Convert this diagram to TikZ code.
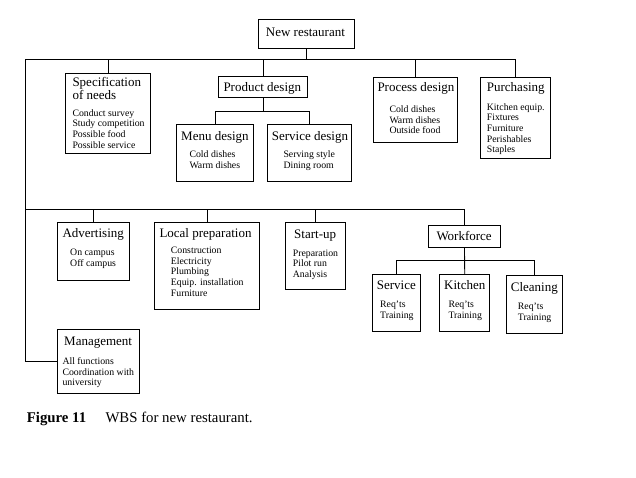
\documentclass[tikz,border=0pt]{standalone}
\usepackage{fontspec}
\setmainfont{Liberation Serif}
\newcommand\wbslines[1]{\begin{tabular}[t]{@{}l@{}}#1\end{tabular}}
\begin{document}
\begin{tikzpicture}[x=1pt,y=-1pt,
  wbox/.style={draw, line width=0.9pt, inner sep=0pt, anchor=north west},
  ttl/.style={font=\fontsize{13}{13.7}\selectfont, anchor=base west, inner sep=0pt},
  itm/.style={font=\fontsize{9.8}{10.7}\selectfont, anchor=base west, inner sep=0pt},
  captxt/.style={font=\fontsize{14.8}{16}\selectfont, anchor=base west, inner sep=0pt},
  conn/.style={line width=0.9pt}]
\useasboundingbox (0,0) rectangle (636,477);
\fill[white] (0,0) rectangle (636,477);
% boxes
\node[wbox, minimum width=96pt, minimum height=29pt] (nr) at (258.3,19.3) {};
\node[wbox, minimum width=85pt, minimum height=80pt] (spec) at (65.3,73.3) {};
\node[wbox, minimum width=89pt, minimum height=21.6pt] (prod) at (218.3,75.7) {};
\node[wbox, minimum width=77.6pt, minimum height=57pt] (menu) at (175.7,124.3) {};
\node[wbox, minimum width=84.3pt, minimum height=57pt] (serv) at (266.7,124.3) {};
\node[wbox, minimum width=84pt, minimum height=65.6pt] (proc) at (373.3,76.7) {};
\node[wbox, minimum width=70pt, minimum height=81.6pt] (purch) at (480.3,76.7) {};
\node[wbox, minimum width=71.4pt, minimum height=58pt] (adv) at (57.3,222.3) {};
\node[wbox, minimum width=104.4pt, minimum height=87pt] (loc) at (154.3,222.3) {};
\node[wbox, minimum width=60pt, minimum height=67pt] (start) at (285.3,222.3) {};
\node[wbox, minimum width=72.6pt, minimum height=22pt] (work) at (427.7,225.3) {};
\node[wbox, minimum width=48.6pt, minimum height=57pt] (wserv) at (371.7,274.3) {};
\node[wbox, minimum width=50pt, minimum height=57pt] (kitch) at (439.3,274.3) {};
\node[wbox, minimum width=56pt, minimum height=58pt] (clean) at (506.3,275.3) {};
\node[wbox, minimum width=82pt, minimum height=64pt] (mgmt) at (57.3,329.3) {};
% texts
\node[ttl] (nrt) at (265.7,36.7) {New restaurant};
\node[ttl] (spect) at (72.3,86) {\wbslines{Specification\\of needs}};
\node[itm] (speci) at (72.3,116) {\wbslines{Conduct survey\\Study competition\\Possible food\\Possible service}};
\node[ttl] (prodt) at (223.3,91) {Product design};
\node[ttl] (menut) at (181,140) {Menu design};
\node[itm] (menui) at (189.3,157.7) {\wbslines{Cold dishes\\Warm dishes}};
\node[ttl] (servt) at (271.7,140) {Service design};
\node[itm] (servi) at (283.3,157.7) {\wbslines{Serving style\\Dining room}};
\node[ttl] (proct) at (377.3,91) {Process design};
\node[itm] (proci) at (389.3,112.3) {\wbslines{Cold dishes\\Warm dishes\\Outside food}};
\node[ttl] (purcht) at (486.7,91) {Purchasing};
\node[itm] (purchi) at (486.7,110) {\wbslines{Kitchen equip.\\Fixtures\\Furniture\\Perishables\\Staples}};
\node[ttl] (advt) at (62.3,237.3) {Advertising};
\node[itm] (advi) at (70,255.3) {\wbslines{On campus\\Off campus}};
\node[ttl] (loct) at (159.3,237.3) {Local preparation};
\node[itm] (loci) at (170.7,253.3) {\wbslines{Construction\\Electricity\\Plumbing\\Equip. installation\\Furniture}};
\node[ttl] (startt) at (294,238.3) {Start-up};
\node[itm] (starti) at (292.7,256) {\wbslines{Preparation\\Pilot run\\Analysis}};
\node[ttl] (workt) at (436.3,240) {Workforce};
\node[ttl] (wservt) at (376.7,289.3) {Service};
\node[itm] (wservi) at (380,307.7) {\wbslines{Req'ts\\Training}};
\node[ttl] (kitcht) at (444,289.3) {Kitchen};
\node[itm] (kitchi) at (448.3,307.7) {\wbslines{Req'ts\\Training}};
\node[ttl] (cleant) at (510.7,291) {Cleaning};
\node[itm] (cleani) at (517.7,309.3) {\wbslines{Req'ts\\Training}};
\node[ttl] (mgmtt) at (64,345.7) {Management};
\node[itm] (mgmti) at (62.3,364.3) {\wbslines{All functions\\Coordination with\\university}};
% caption
\node[captxt] (figno) at (26.7,422.3) {\textbf{Figure 11}};
\node[captxt] (figcap) at (105.3,422.3) {WBS for new restaurant.};
% connectors
\coordinate (bus1) at (0,59.3);
\coordinate (bus2) at (0,209.3);
\coordinate (lft) at (25.7,0);
\coordinate (pbus) at (0,111.7);
\coordinate (wbus) at (0,260.3);
\draw[conn] (nr.south) -- (nr.south |- bus1);
\draw[conn] (mgmt.west) -- (lft |- mgmt.west) -- (lft |- bus1) -- (purch.north |- bus1) -- (purch.north);
\draw[conn] (spec.north) -- (spec.north |- bus1);
\draw[conn] (prod.north) -- (prod.north |- bus1);
\draw[conn] (proc.north) -- (proc.north |- bus1);
\draw[conn] (lft |- bus2) -- (work.north |- bus2) -- (work.north);
\draw[conn] (adv.north) -- (adv.north |- bus2);
\draw[conn] (loc.north) -- (loc.north |- bus2);
\draw[conn] (start.north) -- (start.north |- bus2);
\draw[conn] (prod.south) -- (prod.south |- pbus);
\draw[conn] (menu.north) -- (menu.north |- pbus) -- (serv.north |- pbus) -- (serv.north);
\draw[conn] (work.south) -- (kitch.north);
\draw[conn] (wserv.north) -- (wserv.north |- wbus) -- (clean.north |- wbus) -- (clean.north);
\end{tikzpicture}
\end{document}
